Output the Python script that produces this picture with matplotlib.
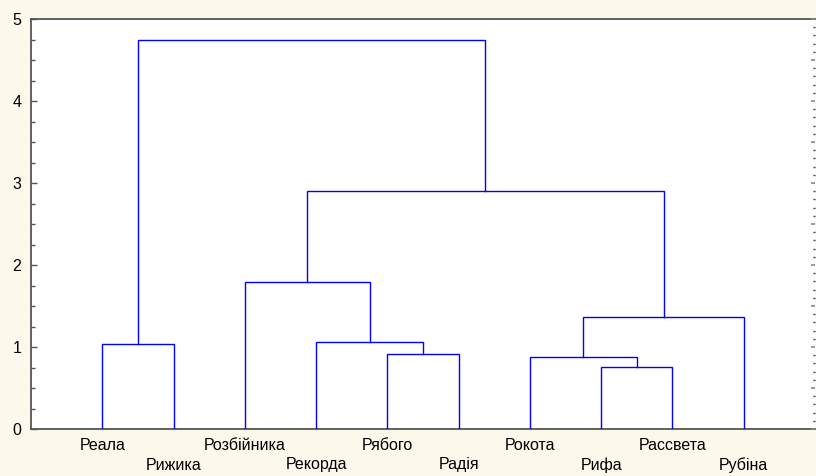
import matplotlib
matplotlib.use("Agg")
import matplotlib.pyplot as plt
from matplotlib.ticker import MultipleLocator
from matplotlib.transforms import offset_copy

plt.rcParams['font.family'] = ['Liberation Sans', 'DejaVu Sans']

leaves = ["Реала", "Рижика", "Розбійника", "Рекорда", "Рябого",
          "Радія", "Рокота", "Рифа", "Рассвета", "Рубіна"]
# merges: (child_a, child_b, height); new cluster ids start at len(leaves)
merge_a = [7, 6, 4, 0, 3, 11, 2, 16, 13]
merge_b = [8, 10, 5, 1, 12, 9, 14, 15, 17]
merge_h = [0.752, 0.878, 0.911, 1.037, 1.061, 1.366, 1.793, 2.902, 4.744]

fig = plt.figure(figsize=(8.16, 4.76), dpi=100)
fig.patch.set_facecolor('#fdf8ec')
ax = fig.add_axes([31/816, 47/476, 784/816, 410/476])
ax.set_facecolor('white')

pos = {i: (i + 1, 0.0) for i in range(len(leaves))}
for k, (a, b, h) in enumerate(zip(merge_a, merge_b, merge_h)):
    xa, ya = pos[a]
    xb, yb = pos[b]
    ax.plot([xa, xa, xb, xb], [ya, h, h, yb], color='#0000ff', lw=1.0,
            solid_joinstyle='miter', zorder=3)
    pos[len(leaves) + k] = ((xa + xb) / 2, h)

ax.set_xlim(0, 11)
ax.set_ylim(0, 5)

for s in ['left', 'top', 'bottom']:
    ax.spines[s].set_color('#555555')
    ax.spines[s].set_linewidth(1.3)
ax.spines['right'].set_visible(False)

ax.set_xticks(range(1, len(leaves) + 1))
ax.tick_params(axis='x', which='both', bottom=False, top=True, labelbottom=False,
               direction='in', length=3, width=1, color='#555555')
ax.yaxis.set_major_locator(MultipleLocator(1))
ax.yaxis.set_minor_locator(MultipleLocator(0.25))
ax.tick_params(axis='y', which='major', left=True, right=False, direction='in',
               length=4, width=1, color='#555555', labelsize=11.5, pad=7)
ax.tick_params(axis='y', which='minor', left=True, right=False, direction='in',
               length=3, width=1, color='#555555')

# right side dotted ticks
ax2 = ax.twinx()
ax2.set_ylim(0, 5)
for s in ax2.spines.values():
    s.set_visible(False)
ax2.set_xticks([])
ax2.yaxis.set_major_locator(MultipleLocator(0.5))
ax2.yaxis.set_minor_locator(MultipleLocator(0.1))
ax2.tick_params(axis='y', which='major', direction='in', length=3, width=1.2,
                color='#888888', labelright=False)
ax2.tick_params(axis='y', which='minor', direction='in', length=1.5, width=1,
                color='#444444', labelright=False)

tr = ax.get_xaxis_transform()
for i, name in enumerate(leaves):
    off = -16 if i % 2 == 0 else -36
    t = offset_copy(tr, fig=fig, x=0, y=off, units='dots')
    ax.text(i + 1, 0, name, transform=t, ha='center', va='center',
            fontsize=11.5, color='black')

fig.savefig('out.png', dpi=100, facecolor=fig.get_facecolor())
